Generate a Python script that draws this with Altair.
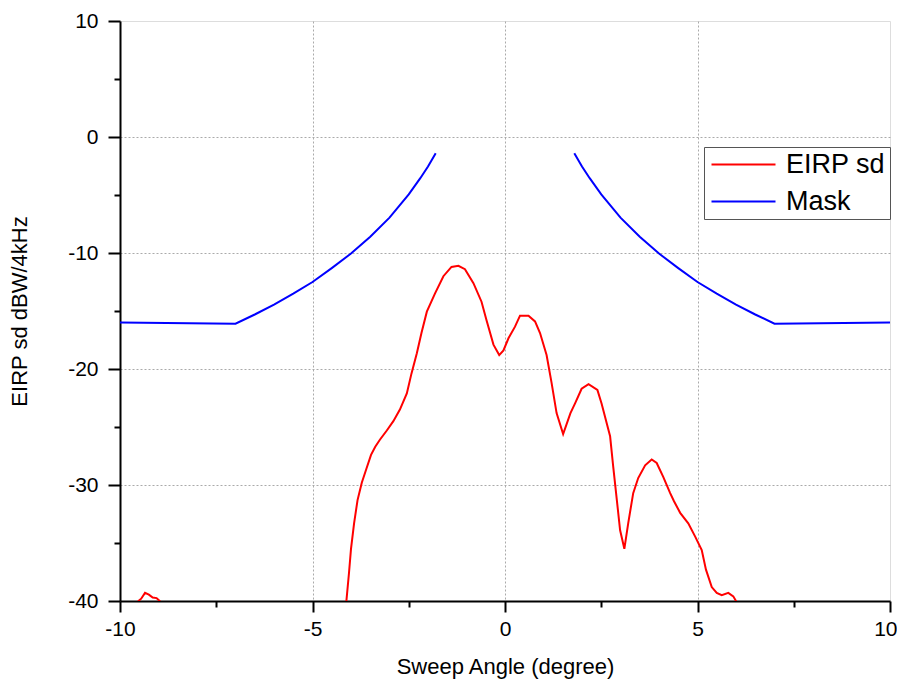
import altair as alt
import pandas as pd

# EIRP sd curve (values below -40 are outside the plotted range and get clipped)
eirp_angle = [-9.62, -9.52, -9.45, -9.35, -9.25, -9.15, -9.05, -8.97, -8.9,
              -4.2, -4.12, -4.05, -4.0, -3.92, -3.83, -3.72, -3.6, -3.48, -3.37, -3.25,
              -3.07, -2.9, -2.73, -2.55, -2.43, -2.29, -2.17, -2.03, -1.82, -1.6,
              -1.39, -1.21, -1.04, -0.82, -0.61, -0.48, -0.3, -0.15, -0.04, 0.09,
              0.26, 0.39, 0.61, 0.78, 0.91, 1.08, 1.21, 1.34, 1.51, 1.7,
              1.82, 1.99, 2.17, 2.4, 2.51, 2.73, 2.81, 2.99, 3.1, 3.2,
              3.33, 3.46, 3.64, 3.81, 3.94, 4.11, 4.29, 4.39, 4.55, 4.76,
              4.94, 5.11, 5.22, 5.37, 5.5, 5.63, 5.8, 5.93, 6.0, 6.08]
eirp_value = [-50, -40, -39.8, -39.3, -39.45, -39.7, -39.75, -40, -50,
              -50, -40, -37.5, -35.5, -33.3, -31.3, -29.8, -28.6, -27.4, -26.7, -26.1,
              -25.3, -24.5, -23.5, -22.1, -20.4, -18.65, -16.9, -15.06, -13.5, -12.0,
              -11.2, -11.1, -11.4, -12.6, -14.2, -15.8, -17.9, -18.8, -18.4, -17.35,
              -16.35, -15.4, -15.4, -15.9, -16.9, -18.8, -21.2, -23.8, -25.6, -23.8,
              -22.96, -21.7, -21.3, -21.8, -23.0, -25.8, -28.4, -33.9, -35.5, -33.3,
              -30.7, -29.4, -28.3, -27.8, -28.1, -29.3, -30.7, -31.4, -32.4, -33.3,
              -34.45, -35.6, -37.3, -38.8, -39.3, -39.5, -39.3, -39.6, -40, -50]

# Mask, left and right branches
mask_left_angle = [-10, -7, -6.5, -6, -5.5, -5, -4.5, -4, -3.5, -3, -2.5, -2.2, -2, -1.8]
mask_left_value = [-16, -16.1, -15.3, -14.45, -13.5, -12.5, -11.3, -10.05, -8.6, -6.95, -4.95, -3.55, -2.55, -1.4]
mask_right_angle = [1.8, 2, 2.2, 2.5, 3, 3.5, 4, 4.5, 5, 5.5, 6, 6.5, 7, 10]
mask_right_value = [-1.4, -2.55, -3.55, -4.95, -6.95, -8.6, -10.05, -11.3, -12.5, -13.5, -14.45, -15.3, -16.1, -16]

series_names = ["EIRP sd", "Mask"]
series_colors = ["#ff0000", "#0000ff"]

x_ticks = [-10, -7.5, -5, -2.5, 0, 2.5, 5, 7.5, 10]
y_ticks = [10, 5, 0, -5, -10, -15, -20, -25, -30, -35, -40]

rows = []
for a, v in zip(eirp_angle, eirp_value):
    rows.append({"angle": a, "value": v, "series": "EIRP sd", "seg": "e"})
for a, v in zip(mask_left_angle, mask_left_value):
    rows.append({"angle": a, "value": v, "series": "Mask", "seg": "mL"})
for a, v in zip(mask_right_angle, mask_right_value):
    rows.append({"angle": a, "value": v, "series": "Mask", "seg": "mR"})
df = pd.DataFrame(rows)

FONT = "Liberation Sans"

x_major = "abs(datum.value) % 5 < 0.01"
y_major = "abs(datum.value) % 10 < 0.01"

x_axis = alt.Axis(
    values=x_ticks,
    title="Sweep Angle (degree)",
    labelExpr=f"({x_major}) ? (datum.value + '') : ''",
    tickSize={"condition": {"test": x_major, "value": 11}, "value": 6},
    tickWidth=2, tickColor="black",
    domainColor="black", domainWidth=2,
    labelFont=FONT, labelFontSize=21, labelColor="black", labelPadding=6,
    labelFlush=False,
    labelAlign={"condition": {"test": "datum.value > 9.9", "value": "right"}, "value": "center"},
    labelOffset={"condition": {"test": "datum.value > 9.9", "value": 7}, "value": 0},
    titleFont=FONT, titleFontSize=22, titleFontWeight="normal", titleColor="black",
    titlePadding=17,
    grid=True, gridColor="#aaaaaa", gridDash=[2, 2], gridWidth=1,
    gridOpacity={"condition": {"test": f"({x_major}) && abs(datum.value) < 9.99", "value": 1}, "value": 0},
)
y_axis = alt.Axis(
    values=y_ticks,
    title="EIRP sd dBW/4kHz",
    labelExpr=f"({y_major}) ? (datum.value + '') : ''",
    tickSize={"condition": {"test": y_major, "value": 12}, "value": 6},
    tickWidth=2, tickColor="black",
    domainColor="black", domainWidth=2,
    labelFont=FONT, labelFontSize=21, labelColor="black", labelPadding=10,
    labelFlush=False,
    titleFont=FONT, titleFontSize=22, titleFontWeight="normal", titleColor="black",
    titlePadding=36,
    grid=True, gridColor="#aaaaaa", gridDash=[2, 2], gridWidth=1,
    gridOpacity={"condition": {"test": f"({y_major}) && datum.value > -39.9 && datum.value < 9.9", "value": 1}, "value": 0},
)

chart = alt.Chart(df).mark_line(strokeWidth=2, clip=True).encode(
    x=alt.X("angle:Q", scale=alt.Scale(domain=[-10, 10], nice=False, zero=False), axis=x_axis),
    y=alt.Y("value:Q", scale=alt.Scale(domain=[-40, 10], nice=False, zero=False), axis=y_axis),
    color=alt.Color(
        "series:N",
        scale=alt.Scale(domain=series_names, range=series_colors),
        legend=alt.Legend(
            title=None, orient="none", legendX=584, legendY=126,
            symbolType="M-1.25,0H6.75", symbolSize=256, symbolStrokeWidth=2,
            labelFont=FONT, labelFontSize=27, labelColor="black", labelOffset=51,
            rowPadding=9, padding=4,
            strokeColor="#555555", fillColor="white",
        ),
    ),
    detail="seg:N",
).properties(
    width=770, height=580,
    autosize=alt.AutoSizeParams(type="none"),
    padding={"left": 112, "top": 13, "right": 7, "bottom": 80},
).configure_view(stroke=None).configure(background="white")

chart.save("out.html", embed_options={"renderer": "svg", "actions": False})
